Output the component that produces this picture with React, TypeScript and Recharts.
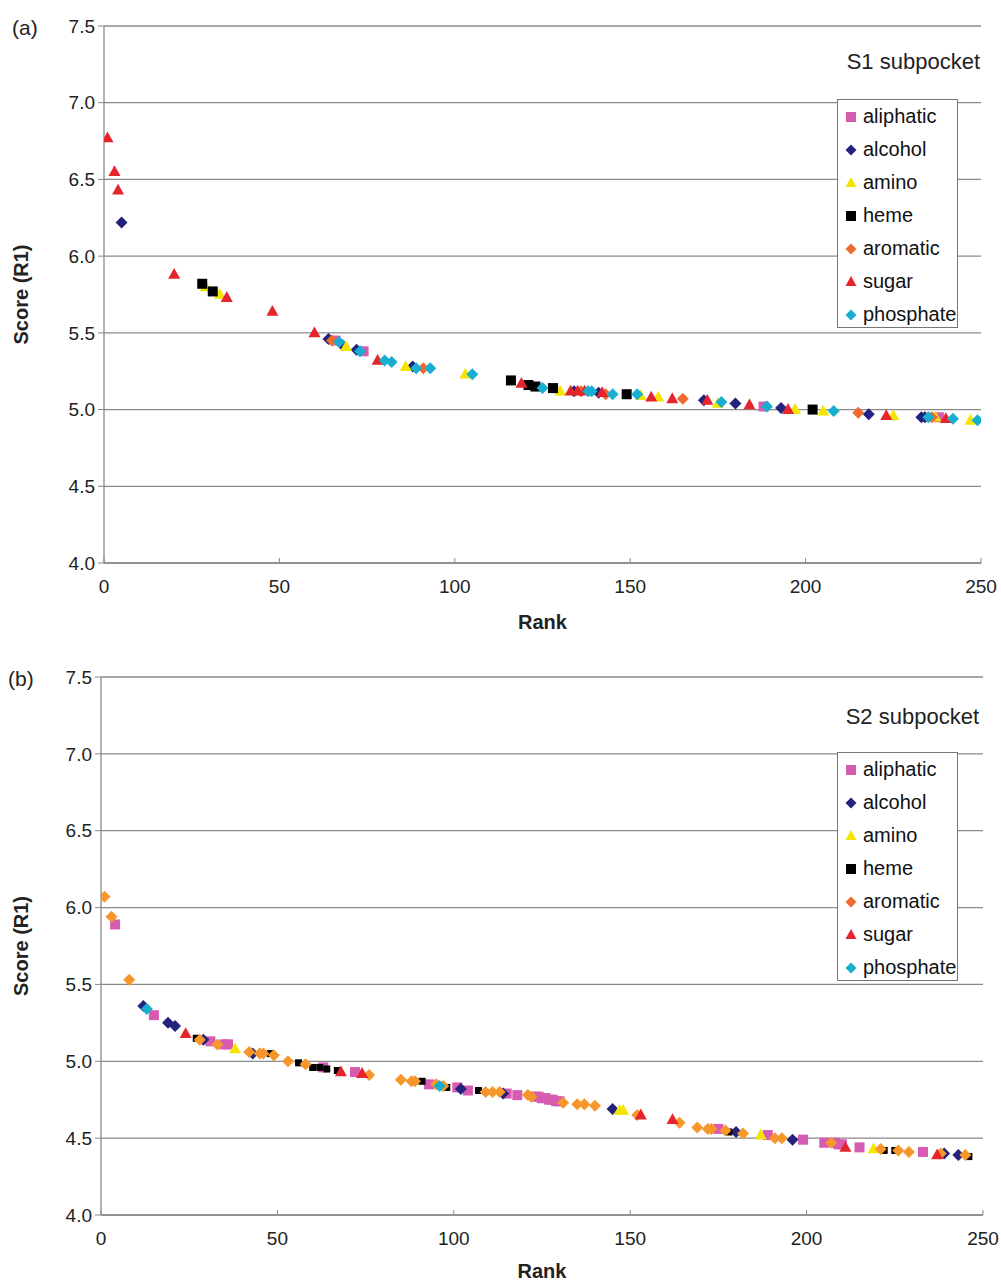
import React from 'react'
import {
  ScatterChart,
  Scatter,
  XAxis,
  YAxis,
  CartesianGrid,
  Legend,
} from 'recharts'

type Pt = [number, number]

// ---- S1 subpocket (panel a): [rank, score] ----
const s1Aliphatic: Pt[] = [[66, 5.45], [74, 5.38], [188, 5.02], [238, 4.95]]
const s1Alcohol: Pt[] = [
  [5, 6.22], [64, 5.46], [68, 5.42], [72, 5.39], [88, 5.28], [134, 5.12], [141, 5.11],
  [171, 5.06], [180, 5.04], [193, 5.01], [218, 4.97], [233, 4.95], [234, 4.95],
]
const s1Amino: Pt[] = [
  [29, 5.8], [33, 5.75], [69, 5.41], [86, 5.28], [103, 5.23], [130, 5.12], [153, 5.09],
  [158, 5.08], [175, 5.04], [197, 5.0], [205, 4.99], [225, 4.96], [237, 4.95], [247, 4.93],
]
const s1Heme: Pt[] = [
  [28, 5.82], [31, 5.77], [116, 5.19], [121, 5.16], [123, 5.15], [128, 5.14], [149, 5.1], [202, 5.0],
]
const s1Aromatic: Pt[] = [
  [65, 5.45], [91, 5.27], [136, 5.12], [143, 5.1], [165, 5.07], [215, 4.98], [236, 4.95],
]
const s1Sugar: Pt[] = [
  [1, 6.77], [3, 6.55], [4, 6.43], [20, 5.88], [35, 5.73], [48, 5.64], [60, 5.5], [78, 5.32],
  [119, 5.17], [133, 5.12], [135, 5.12], [137, 5.12], [142, 5.11], [156, 5.08], [162, 5.07],
  [172, 5.06], [184, 5.03], [195, 5.0], [223, 4.96], [240, 4.94],
]
const s1Phosphate: Pt[] = [
  [67, 5.44], [73, 5.38], [80, 5.32], [82, 5.31], [89, 5.27], [93, 5.27], [105, 5.23],
  [125, 5.14], [138, 5.12], [139, 5.12], [145, 5.1], [152, 5.1], [176, 5.05], [189, 5.02],
  [208, 4.99], [235, 4.95], [242, 4.94], [249, 4.93],
]

// ---- S2 subpocket (panel b) ----
const s2Aliphatic: Pt[] = [
  [4, 5.89], [15, 5.3], [31, 5.13], [35, 5.11], [36, 5.11], [63, 4.96], [72, 4.93], [93, 4.85],
  [101, 4.83], [104, 4.81], [115, 4.79], [118, 4.78], [123, 4.77], [124, 4.77], [125, 4.76],
  [126, 4.76], [127, 4.75], [128, 4.75], [129, 4.74], [130, 4.74], [175, 4.56], [189, 4.52],
  [199, 4.49], [205, 4.47], [208, 4.47], [209, 4.46], [210, 4.46], [215, 4.44], [233, 4.41],
]
const s2Alcohol: Pt[] = [
  [12, 5.36], [19, 5.25], [21, 5.23], [29, 5.14], [43, 5.05], [102, 4.82], [114, 4.79],
  [145, 4.69], [180, 4.54], [196, 4.49], [239, 4.4], [243, 4.39],
]
const s2Amino: Pt[] = [[38, 5.08], [147, 4.68], [148, 4.68], [187, 4.52], [219, 4.43]]
const s2Heme: Pt[] = [
  [27, 5.15], [48, 5.05], [56, 4.99], [60, 4.96], [62, 4.96], [64, 4.95], [67, 4.94], [91, 4.87],
  [98, 4.83], [107, 4.81], [178, 4.54], [222, 4.42], [225, 4.42], [246, 4.38],
]
const s2Aromatic: Pt[] = [
  [1, 6.07], [3, 5.94], [8, 5.53], [28, 5.14], [33, 5.11], [42, 5.06], [45, 5.05], [46, 5.05],
  [49, 5.04], [53, 5.0], [58, 4.98], [76, 4.91], [85, 4.88], [88, 4.87], [89, 4.87], [95, 4.85],
  [97, 4.84], [109, 4.8], [111, 4.8], [113, 4.8], [121, 4.78], [122, 4.77], [131, 4.73],
  [135, 4.72], [137, 4.72], [140, 4.71], [152, 4.65], [164, 4.6], [169, 4.57], [172, 4.56],
  [173, 4.56], [177, 4.55], [182, 4.53], [191, 4.5], [193, 4.5], [207, 4.47], [221, 4.43],
  [226, 4.42], [229, 4.41], [238, 4.4], [245, 4.39],
]
const s2Sugar: Pt[] = [[24, 5.18], [68, 4.93], [74, 4.92], [153, 4.65], [162, 4.62], [211, 4.44], [237, 4.39]]
const s2Phosphate: Pt[] = [[13, 5.34], [96, 4.84]]

const X_TICKS = [0, 50, 100, 150, 200, 250]
const Y_TICKS = [4, 4.5, 5, 5.5, 6, 6.5, 7, 7.5]

const FONT = '"Liberation Sans", Arial, sans-serif'

type Kind = 'square' | 'diamond' | 'triangle'

// draw a marker centred on cx, cy
function Marker({ cx, cy, fill, kind, s }: { cx: number; cy: number; fill: string; kind: Kind; s: number }) {
  if (cx == null || cy == null) return null
  if (kind === 'square') {
    return <rect x={cx - s / 2} y={cy - s / 2} width={s} height={s} fill={fill} />
  }
  if (kind === 'diamond') {
    const h = s / 2
    return <polygon points={`${cx},${cy - h} ${cx + h},${cy} ${cx},${cy + h} ${cx - h},${cy}`} fill={fill} />
  }
  const h = s * 0.9
  return (
    <polygon
      points={`${cx},${cy - h * 0.6} ${cx + s / 2},${cy + h * 0.4} ${cx - s / 2},${cy + h * 0.4}`}
      fill={fill}
    />
  )
}

interface Series {
  name: string
  data: Pt[]
  kind: Kind
  color: string
  legendColor: string
  size: number
}

const C = {
  aliphatic: '#d75cb1',
  alcohol: '#23237d',
  amino: '#f4e500',
  heme: '#000000',
  aromatic: '#ef6a2d',
  aromaticB: '#f7962b',
  sugar: '#e5252b',
  phosphate: '#19aed0',
}

const seriesA: Series[] = [
  { name: 'aliphatic', data: s1Aliphatic, kind: 'square', color: C.aliphatic, legendColor: C.aliphatic, size: 10 },
  { name: 'alcohol', data: s1Alcohol, kind: 'diamond', color: C.alcohol, legendColor: C.alcohol, size: 12 },
  { name: 'amino', data: s1Amino, kind: 'triangle', color: C.amino, legendColor: C.amino, size: 12 },
  { name: 'heme', data: s1Heme, kind: 'square', color: C.heme, legendColor: C.heme, size: 10 },
  { name: 'aromatic', data: s1Aromatic, kind: 'diamond', color: C.aromatic, legendColor: C.aromatic, size: 12 },
  { name: 'sugar', data: s1Sugar, kind: 'triangle', color: C.sugar, legendColor: C.sugar, size: 12 },
  { name: 'phosphate', data: s1Phosphate, kind: 'diamond', color: C.phosphate, legendColor: C.phosphate, size: 12 },
]

const seriesB: Series[] = [
  { name: 'aliphatic', data: s2Aliphatic, kind: 'square', color: C.aliphatic, legendColor: C.aliphatic, size: 10 },
  { name: 'alcohol', data: s2Alcohol, kind: 'diamond', color: C.alcohol, legendColor: C.alcohol, size: 12 },
  { name: 'amino', data: s2Amino, kind: 'triangle', color: C.amino, legendColor: C.amino, size: 12 },
  { name: 'heme', data: s2Heme, kind: 'square', color: C.heme, legendColor: C.heme, size: 7 },
  { name: 'aromatic', data: s2Aromatic, kind: 'diamond', color: C.aromaticB, legendColor: C.aromatic, size: 12 },
  { name: 'sugar', data: s2Sugar, kind: 'triangle', color: C.sugar, legendColor: C.sugar, size: 12 },
  { name: 'phosphate', data: s2Phosphate, kind: 'diamond', color: C.phosphate, legendColor: C.phosphate, size: 12 },
]

function LegendBox({ items }: { items: Series[] }) {
  return (
    <div style={{ fontFamily: FONT, fontSize: 20, color: '#111' }}>
      {items.map((s) => (
        <div key={s.name} style={{ height: 33, display: 'flex', alignItems: 'center' }}>
          <svg width={24} height={14} style={{ flex: 'none' }}>
            <Marker cx={13} cy={7} fill={s.legendColor} kind={s.kind} s={s.kind === 'square' ? 10 : 11} />
          </svg>
          <span style={{ marginLeft: 1 }}>{s.name}</span>
        </div>
      ))}
    </div>
  )
}

interface PanelProps {
  series: Series[]
  height: number
  top: number
  plotHeight: number
  yAxisWidth: number
  right: number
  rankOffset: number
  legendTop: number
}

function Panel({ series, height, top, plotHeight, yAxisWidth, right, rankOffset, legendTop }: PanelProps) {
  const xAxisHeight = height - top - plotHeight
  return (
    <ScatterChart width={1001} height={height} margin={{ top, right, left: 0, bottom: 0 }}>
      <CartesianGrid vertical={false} stroke="#8a8a8a" strokeWidth={1.3} />
      <XAxis
        type="number"
        dataKey="x"
        domain={[0, 250]}
        ticks={X_TICKS}
        height={xAxisHeight}
        allowDataOverflow
        axisLine={{ stroke: '#8a8a8a', strokeWidth: 1.3 }}
        tickLine={{ stroke: '#8a8a8a', transform: 'translate(0,-5)' }}
        tickSize={5}
        tickMargin={12}
        tick={{ fontSize: 19, fill: '#222', fontFamily: FONT }}
        label={{
          value: 'Rank',
          position: 'insideBottom',
          offset: rankOffset,
          style: { fontSize: 20, fontWeight: 'bold', fill: '#222', fontFamily: FONT },
        }}
      />
      <YAxis
        type="number"
        dataKey="y"
        domain={[4, 7.5]}
        ticks={Y_TICKS}
        width={yAxisWidth}
        allowDataOverflow
        axisLine={{ stroke: '#8a8a8a', strokeWidth: 1.3 }}
        tickLine={{ stroke: '#8a8a8a' }}
        tickSize={6}
        tickMargin={3}
        tickFormatter={(v: number) => v.toFixed(1)}
        tick={{ fontSize: 19, fill: '#222', fontFamily: FONT }}
        label={{
          value: 'Score (R1)',
          angle: -90,
          position: 'insideLeft',
          offset: 21,
          style: { fontSize: 20, fontWeight: 'bold', fill: '#222', fontFamily: FONT, textAnchor: 'middle' },
        }}
      />
      <Legend
        layout="vertical"
        align="center"
        verticalAlign="middle"
        content={() => <LegendBox items={series} />}
        wrapperStyle={{
          left: 837,
          top: legendTop,
          width: 121,
          height: 229,
          border: '1.3px solid #777',
          background: '#fff',
          boxSizing: 'border-box',
        }}
      />
      {series.map((s) => (
        <Scatter
          key={s.name}
          name={s.name}
          data={s.data.map(([x, y]) => ({ x, y }))}
          fill={s.color}
          isAnimationActive={false}
          shape={(p: any) => <Marker cx={p.cx} cy={p.cy} fill={s.color} kind={s.kind} s={s.size} />}
        />
      ))}
    </ScatterChart>
  )
}

const textStyle: React.CSSProperties = { position: 'absolute', fontFamily: FONT, color: '#222', whiteSpace: 'nowrap' }

export default function App() {
  return (
    <div style={{ position: 'absolute', left: 0, top: 0, width: 1001, height: 1282, background: '#fff' }}>
      <div style={{ position: 'absolute', left: 0, top: 0 }}>
        <Panel series={seriesA} height={640} top={26} plotHeight={537} yAxisWidth={104} right={20} rankOffset={11} legendTop={99} />
      </div>
      <div style={{ position: 'absolute', left: 0, top: 640 }}>
        <Panel series={seriesB} height={642} top={37} plotHeight={538} yAxisWidth={101} right={18} rankOffset={4} legendTop={112} />
      </div>
      <div style={{ ...textStyle, left: 12, top: 15, fontSize: 21, lineHeight: '26px' }}>(a)</div>
      <div style={{ ...textStyle, left: 8, top: 666, fontSize: 21, lineHeight: '26px' }}>(b)</div>
      <div style={{ ...textStyle, right: 21, top: 49, fontSize: 22, lineHeight: '26px' }}>S1 subpocket</div>
      <div style={{ ...textStyle, right: 22, top: 704, fontSize: 22, lineHeight: '26px' }}>S2 subpocket</div>
    </div>
  )
}
